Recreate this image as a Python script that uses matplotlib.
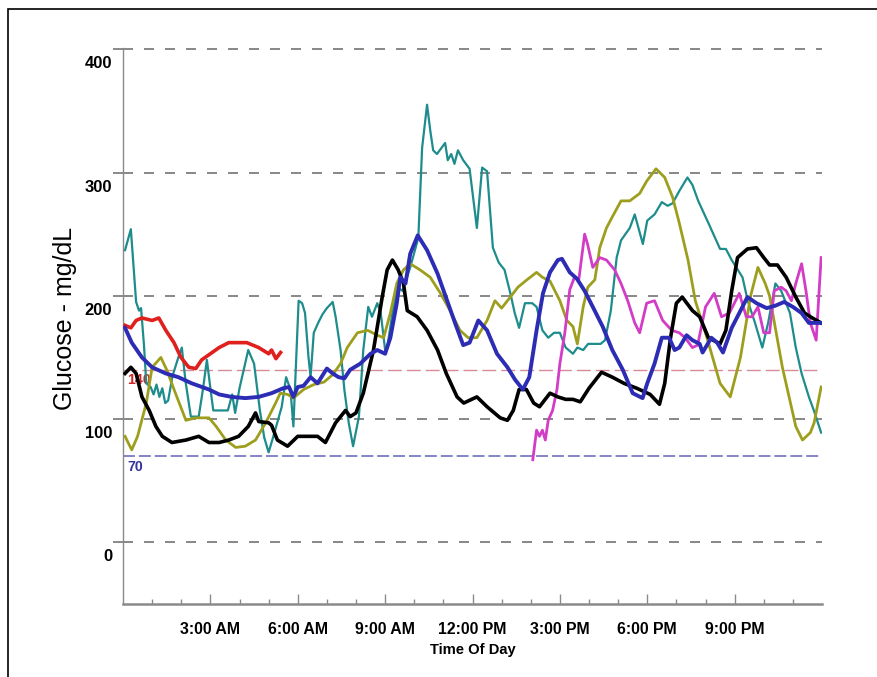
import matplotlib
matplotlib.use("Agg")
import matplotlib.pyplot as plt
from matplotlib import font_manager
from matplotlib.patches import Rectangle
from matplotlib.transforms import ScaledTranslation

# -----------------------------
# Data (hour of day, glucose mg/dL)
# -----------------------------
teal_h = [0.07, 0.27, 0.45, 0.55, 0.62, 0.72, 0.8, 0.95, 1.05, 1.15, 1.25, 1.35, 1.45, 1.55,
          1.7, 1.9, 2.02, 2.15, 2.33, 2.6, 2.75, 2.88, 3.0, 3.1, 3.6, 3.75, 3.85, 4.0, 4.3,
          4.5, 4.7, 4.85, 5.0, 5.2, 5.45, 5.6, 5.75, 5.85, 6.03, 6.15, 6.25, 6.37, 6.44,
          6.55, 6.7, 6.85, 7.0, 7.2, 7.3, 7.47, 7.6, 7.75, 7.9, 8.1, 8.25, 8.42, 8.55, 8.73,
          8.85, 9.0, 9.07, 9.25, 9.42, 9.6, 9.86, 10.14, 10.27, 10.44, 10.55, 10.65, 10.78,
          11.06, 11.15, 11.27, 11.38, 11.5, 11.68, 11.9, 12.15, 12.33, 12.5, 12.7, 12.9,
          13.1, 13.3, 13.45, 13.6, 13.8, 14.05, 14.2, 14.4, 14.6, 14.8, 15.0, 15.2, 15.45,
          15.6, 15.8, 15.97, 16.2, 16.4, 16.55, 16.75, 16.95, 17.1, 17.4, 17.57, 17.7,
          17.85, 18.0, 18.25, 18.5, 18.7, 18.87, 19.1, 19.38, 19.55, 19.75, 20.1, 20.5,
          20.7, 20.9, 21.27, 21.45, 21.7, 21.95, 22.15, 22.4, 22.6, 22.9, 23.1, 23.3,
          23.55, 23.75, 23.97]
teal_v = [237, 254, 195, 188, 190, 160, 129, 126, 120, 128, 118, 125, 113, 115,
          135, 150, 158, 130, 102, 102, 125, 148, 125, 107, 107, 120, 105, 125, 156,
          145, 107, 85, 73, 89, 110, 134, 124, 94, 196, 194, 186, 150, 134,
          170, 178, 185, 190, 195, 183, 156, 124, 97, 78, 102, 156, 191, 183, 194,
          186, 156, 158, 186, 207, 204, 223, 247, 320, 355, 334, 318, 315,
          324, 310, 315, 307, 318, 310, 303, 255, 304, 301, 239, 227,
          221, 202, 186, 174, 194, 194, 191, 172, 166, 170, 170, 158, 153,
          158, 156, 161, 161, 161, 164, 188, 231, 245, 255, 266, 255,
          242, 261, 266, 276, 273, 275, 285, 296, 290, 277, 259, 238,
          238, 229, 215, 196, 178, 158, 178, 210, 204, 186, 158, 137,
          118, 105, 89]

olive_h = [0.07, 0.3, 0.5, 0.8, 1.0, 1.3, 1.5, 1.8, 2.16, 2.5, 2.95, 3.2, 3.53, 3.87, 4.2,
           4.55, 4.9, 5.24, 5.4, 5.65, 5.85, 6.2, 6.55, 6.9, 7.2, 7.47, 7.7, 8.05, 8.4,
           8.73, 8.95, 9.18, 9.4, 9.63, 9.86, 10.2, 10.55, 10.9, 11.23, 11.57, 11.85,
           12.15, 12.5, 12.77, 13.0, 13.3, 13.56, 13.87, 14.2, 14.4, 14.66, 15.0, 15.24,
           15.45, 15.6, 15.8, 15.96, 16.2, 16.37, 16.6, 16.8, 17.1, 17.4, 17.74, 17.98,
           18.3, 18.6, 18.87, 19.1, 19.4, 19.65, 20.05, 20.5, 20.85, 21.2, 21.55, 21.8,
           22.05, 22.2, 22.64, 23.1, 23.33, 23.6, 23.73, 23.97]
olive_v = [86, 75, 86, 113, 142, 150, 140, 121, 99, 101, 101, 94, 83, 77, 78,
           83, 97, 113, 121, 120, 117, 124, 128, 130, 136, 145, 158, 170, 172,
           168, 166, 186, 210, 221, 226, 221, 215, 202, 188, 172, 166,
           166, 180, 196, 190, 199, 207, 213, 219, 215, 212, 196, 180,
           175, 161, 191, 207, 213, 239, 255, 264, 277, 277, 283, 293,
           303, 296, 280, 259, 229, 196, 166, 129, 118, 150, 200, 223,
           210, 200, 142, 94, 83, 89, 97, 126]

magenta_h = [14.07, 14.2, 14.3, 14.4, 14.5, 14.6, 14.75, 14.9, 15.0, 15.17, 15.34, 15.5,
             15.65, 15.85, 15.95, 16.13, 16.37, 16.6, 16.88, 17.1, 17.33, 17.57, 17.74,
             17.98, 18.25, 18.53, 18.84, 19.1, 19.3, 19.55, 19.73, 20.0, 20.3, 20.55,
             20.82, 21.16, 21.4, 21.6, 21.8, 22.0, 22.2, 22.36, 22.6, 22.77, 22.95, 23.1,
             23.3, 23.45, 23.6, 23.8, 23.97]
magenta_v = [67, 91, 86, 91, 83, 99, 107, 124, 145, 170, 205, 215,
             213, 250, 242, 223, 231, 229, 221, 210, 196, 178, 170,
             194, 196, 180, 172, 170, 166, 158, 160, 191, 202, 183,
             186, 202, 183, 183, 191, 170, 170, 204, 207, 204, 196, 210,
             226, 204, 178, 164, 231]

red_h = [0.07, 0.27, 0.45, 0.65, 1.0, 1.23, 1.47, 1.75, 1.99, 2.26, 2.5, 2.7, 3.0, 3.3,
         3.63, 3.97, 4.25, 4.66, 5.0, 5.1, 5.25, 5.41]
red_v = [176, 174, 180, 182, 180, 182, 172, 162, 150, 142, 141, 148, 153, 158,
         162, 162, 162, 158, 153, 156, 149, 154]

black_h = [0.07, 0.27, 0.45, 0.65, 0.9, 1.13, 1.35, 1.68, 2.16, 2.6, 2.95, 3.3, 3.63, 3.97,
           4.3, 4.55, 4.66, 5.0, 5.1, 5.3, 5.65, 6.0, 6.35, 6.68, 6.95, 7.3, 7.64, 7.8,
           8.0, 8.25, 8.6, 8.9, 9.07, 9.25, 9.45, 9.63, 9.76, 10.1, 10.44, 10.8, 11.1,
           11.47, 11.7, 12.15, 12.5, 12.95, 13.2, 13.4, 13.6, 13.85, 14.1, 14.3, 14.66,
           14.93, 15.2, 15.45, 15.7, 16.0, 16.43, 16.8, 17.2, 17.64, 18.1, 18.42, 18.6,
           18.8, 19.0, 19.2, 19.55, 19.8, 20.1, 20.5, 20.7, 20.9, 21.1, 21.44, 21.75,
           22.0, 22.2, 22.47, 22.77, 23.1, 23.4, 23.67, 23.97]
black_v = [137, 142, 137, 118, 107, 94, 86, 81, 83, 86, 81, 81, 83, 86,
           94, 105, 98, 97, 95, 83, 78, 86, 86, 86, 81, 97, 107, 102,
           105, 121, 156, 199, 221, 229, 221, 210, 188, 183, 172, 156, 137,
           118, 113, 118, 110, 101, 99, 107, 124, 124, 113, 110, 121,
           118, 116, 116, 114, 125, 138, 134, 129, 125, 120, 112, 129,
           166, 194, 199, 188, 183, 166, 161, 172, 204, 231, 238, 239,
           231, 225, 225, 215, 199, 186, 182, 178]

blue_h = [0.07, 0.3, 0.65, 1.0, 1.47, 1.9, 2.36, 2.95, 3.3, 3.73, 4.2, 4.66, 5.1, 5.5,
          5.7, 5.85, 6.0, 6.2, 6.44, 6.68, 7.0, 7.2, 7.4, 7.6, 7.8, 8.15, 8.5, 8.73, 9.0,
          9.18, 9.4, 9.52, 9.7, 9.86, 10.12, 10.44, 10.8, 11.13, 11.4, 11.68, 11.9, 12.2,
          12.5, 12.84, 13.2, 13.46, 13.73, 13.95, 14.2, 14.42, 14.66, 14.93, 15.07,
          15.34, 15.58, 15.85, 16.13, 16.47, 16.8, 17.16, 17.5, 17.84, 18.0, 18.25,
          18.5, 18.75, 18.94, 19.1, 19.35, 19.55, 19.8, 19.9, 20.2, 20.4, 20.6, 20.9,
          21.16, 21.44, 21.75, 22.1, 22.4, 22.7, 23.0, 23.3, 23.55, 23.97]
blue_v = [174, 162, 150, 142, 137, 134, 129, 124, 120, 118, 117, 118, 121, 125,
          126, 118, 126, 127, 134, 129, 141, 137, 134, 133, 140, 145, 153, 156, 153,
          166, 194, 215, 210, 234, 249, 237, 218, 196, 178, 160, 162, 180,
          172, 153, 142, 132, 124, 134, 172, 202, 219, 229, 230,
          219, 214, 204, 191, 175, 156, 140, 121, 117, 129, 145,
          166, 166, 156, 158, 168, 164, 161, 154, 166, 162, 154, 174,
          186, 199, 194, 190, 192, 195, 191, 186, 178, 178]

y_levels = [0, 100, 200, 300, 400]
hour_ticks = [3, 6, 9, 12, 15, 18, 21]
hour_labels = ["3:00 AM", "6:00 AM", "9:00 AM", "12:00 PM", "3:00 PM", "6:00 PM", "9:00 PM"]
minor_hours = [h for h in range(1, 24) if h % 3 != 0]
high_limit = 140
low_limit = 70

# -----------------------------
# Fonts
# -----------------------------
try:
    font_manager.findfont("Liberation Sans Narrow", fallback_to_default=False)
    tick_font = "Liberation Sans Narrow"
    scale = 1.0
except Exception:
    tick_font = "Liberation Sans"
    scale = 0.85

grey = "#8a8a8a"

fig = plt.figure(figsize=(8.77, 6.77), dpi=100)
ax = fig.add_axes([123/877, 73/677, 699/877, 556/677])

ax.plot(teal_h, teal_v, color="#1e8c8c", lw=1.6, zorder=3)
ax.plot(olive_h, olive_v, color="#9e9e1e", lw=2.0, zorder=3)
ax.plot(magenta_h, magenta_v, color="#d23cc6", lw=2.0, zorder=3)
ax.plot(red_h, red_v, color="#e0201c", lw=2.6, zorder=4)
ax.plot(black_h, black_v, color="black", lw=2.6, zorder=4)
ax.plot(blue_h, blue_v, color="#2c2cb4", lw=2.8, zorder=5)

# threshold lines
ax.axhline(high_limit, color="#d88a96", lw=1.0, dashes=(10, 3.6), zorder=2)
ax.axhline(low_limit, color="#7a7ac4", lw=1.3, dashes=(6.6, 2.2), zorder=2)
ax.text(0.15, high_limit - 3, str(high_limit), color="#d02828", fontsize=12*scale,
        fontweight="bold", family=tick_font, va="top", ha="left", zorder=2)
ax.text(0.15, low_limit - 3, str(low_limit), color="#3434a0", fontsize=12*scale,
        fontweight="bold", family=tick_font, va="top", ha="left", zorder=2)

ax.set_xlim(0, 24)
ax.set_ylim(-50, 401)

# y axis
ax.set_yticks(y_levels)
ax.set_yticklabels([str(v) for v in y_levels])
ax.tick_params(axis="y", direction="out", length=7.2, width=1.4, color=grey, pad=0.5,
               labelsize=14*scale)
ax.yaxis.grid(True, color=grey, lw=1.44, linestyle=(0, (5, 5.5)))
ax.set_axisbelow(True)

# x axis
ax.set_xticks(hour_ticks)
ax.set_xticklabels(hour_labels)
ax.set_xticks(minor_hours, minor=True)
ax.tick_params(axis="x", which="major", direction="in", length=7.2, width=1.0,
               color=grey, pad=13, labelsize=13.5*scale)
ax.tick_params(axis="x", which="minor", direction="in", length=3.6, width=1.0, color=grey)

for lab in ax.get_xticklabels() + ax.get_yticklabels():
    lab.set_fontfamily(tick_font)
    lab.set_fontweight("bold")
offset = ScaledTranslation(0, -7/100, fig.dpi_scale_trans)
for lab in ax.get_yticklabels():
    lab.set_va("top")
    lab.set_transform(lab.get_transform() + offset)

for s in ["top", "right"]:
    ax.spines[s].set_visible(False)
ax.spines["left"].set_color(grey)
ax.spines["left"].set_linewidth(1.0)
ax.spines["bottom"].set_color(grey)
ax.spines["bottom"].set_linewidth(1.8)

ax.set_xlabel("Time Of Day", fontsize=12.5*scale, fontweight="bold", family=tick_font,
              labelpad=4)
ax.set_ylabel("Glucose - mg/dL", fontsize=18, family="Liberation Sans")
ax.yaxis.set_label_coords(-0.066, 0.514)

# outer frame
fig.patches.append(Rectangle((8/877, -0.05), 1.1, (677-9)/677 + 0.05,
                             transform=fig.transFigure, fill=False,
                             ec="black", lw=1.2))

fig.savefig("out.png", dpi=100)
